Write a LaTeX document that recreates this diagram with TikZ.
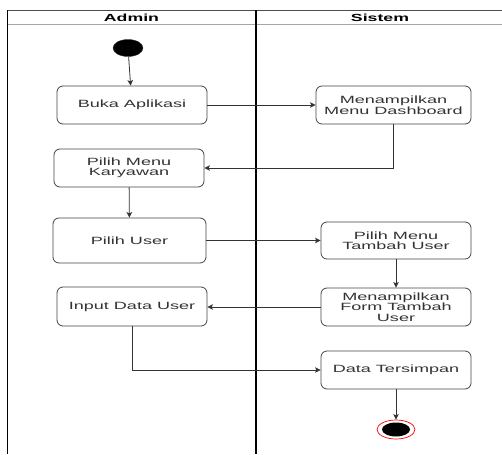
\documentclass[tikz,border=0pt]{standalone}
\usepackage{fontspec}
\setmainfont{Liberation Sans}[FakeStretch=1.72]
\usetikzlibrary{arrows.meta,shapes.geometric}
\definecolor{ink}{HTML}{333333}
\definecolor{edge}{HTML}{444444}
\begin{document}
\begin{tikzpicture}[x=1pt,y=-1pt,
  act/.style={draw=edge,line width=0.8pt,rounded corners=6pt,fill=white,
    text=ink,align=center,inner sep=1pt,
    font=\fontsize{10.5}{10.5}\selectfont},
  flow/.style={draw=ink,line width=0.8pt,-{Stealth[length=5.5pt,width=5.5pt,inset=1.2pt]}},
  lane/.style={line width=1.4pt,black},
  head/.style={font=\fontsize{10.3}{11}\selectfont\bfseries,text=black}]
\useasboundingbox (0,0) rectangle (502,454);

% swimlanes
\draw[line width=1.2pt,draw=black!70] (7.5,10.7) -- (502,10.7);
\draw[line width=1.2pt,draw=black!35] (7.5,24.5) -- (502,24.5);
\draw[lane] (7.5,10) -- (7.5,454);
\draw[lane] (256,10) -- (256,454);
\node[head] (hadmin) at (131.5,18) {Admin};
\node[head] (hsistem) at (380,18) {Sistem};

% activities
\node[ellipse,fill=black,draw=black!80,minimum width=30pt,minimum height=17pt,inner sep=0pt] (start) at (128,48) {};
\node[act,minimum width=150pt,minimum height=38pt] (buka) at (132,105) {Buka Aplikasi};
\node[act,minimum width=155pt,minimum height=38pt] (dash) at (393.5,105) {Menampilkan\\Menu Dashboard};
\node[act,minimum width=150pt,minimum height=38pt] (kary) at (129,168) {Pilih Menu\\Karyawan};
\node[act,minimum width=153pt,minimum height=45pt] (user) at (129.5,240.5) {Pilih User};
\node[act,minimum width=150pt,minimum height=37pt] (tambah) at (396,240.5) {Pilih Menu\\Tambah User};
\node[act,minimum width=150pt,minimum height=38pt] (form) at (396,307) {Menampilkan\\Form Tambah\\User};
\node[act,minimum width=150pt,minimum height=39pt] (input) at (132,306.5) {Input Data User};
\node[act,minimum width=150pt,minimum height=38pt] (simpan) at (396,370) {Data Tersimpan};
\node[ellipse,draw=red,line width=0.7pt,fill=white,minimum width=38pt,minimum height=19pt,inner sep=0pt] (stop) at (396,429.5) {};
\node[ellipse,fill=black,minimum width=28pt,minimum height=14pt,inner sep=0pt] (stopin) at (stop) {};

% transitions
\draw[flow] (start) -- (buka);
\draw[flow] (buka.east) -- (dash.west);
\draw[flow] (dash.south) |- (kary.east);
\draw[flow] (kary) -- (user);
\draw[flow] (user.east) -- (user.east -| tambah.west);
\draw[flow] (tambah) -- (form);
\draw[flow] (form.west) -- (form.west -| input.east);
\draw[flow] (input.south) |- (simpan.west);
\draw[flow] (simpan) -- (stop);
\end{tikzpicture}
\end{document}
